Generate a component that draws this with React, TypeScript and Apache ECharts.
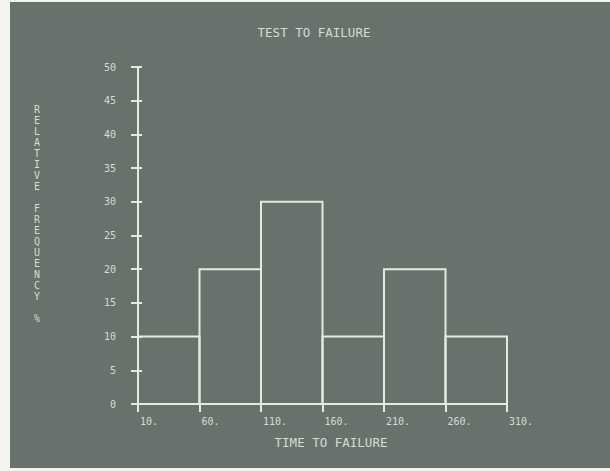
import React, { useEffect, useRef } from "react";
import * as echarts from "echarts";

const binStarts = [10, 60, 110, 160, 210, 260];
const binEnds = [60, 110, 160, 210, 260, 310];
const frequencies = [10, 20, 30, 10, 20, 10];
const titleText = "TEST TO FAILURE";
const xName = "TIME TO FAILURE";
const yName = "RELATIVE FREQUENCY %";

const LINE = "#e4e9e4";
const TEXT = "#d6dcd6";
const BG = "#68716b";
const FONT = "'DejaVu Sans Mono', monospace";

export default function App() {
  const ref = useRef<HTMLDivElement>(null);
  useEffect(() => {
    if (!ref.current) return;
    const chart = echarts.init(ref.current, null, { renderer: "svg" });
    const data = binStarts.map((s, i) => [s, binEnds[i], frequencies[i]]);
    const vertical = yName.split("").join("\n");
    chart.setOption({
      animation: false,
      backgroundColor: "#f3f3ef",
      graphic: [
        { type: "rect", z: -10, shape: { x: 10, y: 2, width: 600, height: 466 }, style: { fill: BG } },
        {
          type: "text", x: 314, y: 32,
          style: { text: titleText, fill: TEXT, font: `12.5px ${FONT}`, align: "center", verticalAlign: "middle" },
        },
        {
          type: "text", x: 331, y: 442,
          style: { text: xName, fill: TEXT, font: `12.5px ${FONT}`, align: "center", verticalAlign: "middle" },
        },
        {
          type: "text", x: 37, y: 104,
          style: { text: vertical, fill: TEXT, font: `10px ${FONT}`, lineHeight: 11, align: "center", verticalAlign: "top" },
        },
      ],
      grid: { left: 138, right: 103, top: 67, bottom: 67 },
      xAxis: {
        type: "value", min: 10, max: 310, interval: 50,
        axisLine: { show: true, lineStyle: { color: LINE, width: 2 } },
        axisTick: { show: true, length: 8, lineStyle: { color: LINE, width: 2 } },
        axisLabel: {
          color: TEXT, fontFamily: FONT, fontSize: 10, margin: 12, align: "left",
          padding: [0, 0, 0, 2],
          formatter: (v: number) => `${v}.`,
        },
        splitLine: { show: false },
      },
      yAxis: [
        {
          type: "value", min: 0, max: 50, interval: 5,
          axisLine: { show: true, lineStyle: { color: LINE, width: 2 } },
          axisTick: { show: true, length: 7, lineStyle: { color: LINE, width: 2 } },
          axisLabel: { color: TEXT, fontFamily: FONT, fontSize: 10, margin: 22 },
          splitLine: { show: false },
        },
        {
          type: "value", min: 0, max: 50, interval: 5, position: "left", offset: 0,
          axisLine: { show: false },
          axisTick: { show: true, inside: true, length: 4, lineStyle: { color: LINE, width: 2 } },
          axisLabel: { show: false },
          splitLine: { show: false },
        },
      ],
      series: [
        {
          type: "custom",
          xAxisIndex: 0,
          yAxisIndex: 0,
          encode: { x: [0, 1], y: 2 },
          data,
          renderItem: (params: any, api: any) => {
            const p0 = api.coord([api.value(0), api.value(2)]);
            const p1 = api.coord([api.value(1), 0]);
            return {
              type: "rect",
              shape: { x: p0[0], y: p0[1], width: p1[0] - p0[0], height: p1[1] - p0[1] },
              style: { fill: "none", stroke: LINE, lineWidth: 2 },
            };
          },
        },
      ],
    });
    return () => chart.dispose();
  }, []);
  return (
    <div
      ref={ref}
      style={{ position: "fixed", left: 0, top: 0, width: 610, height: 471 }}
    />
  );
}
